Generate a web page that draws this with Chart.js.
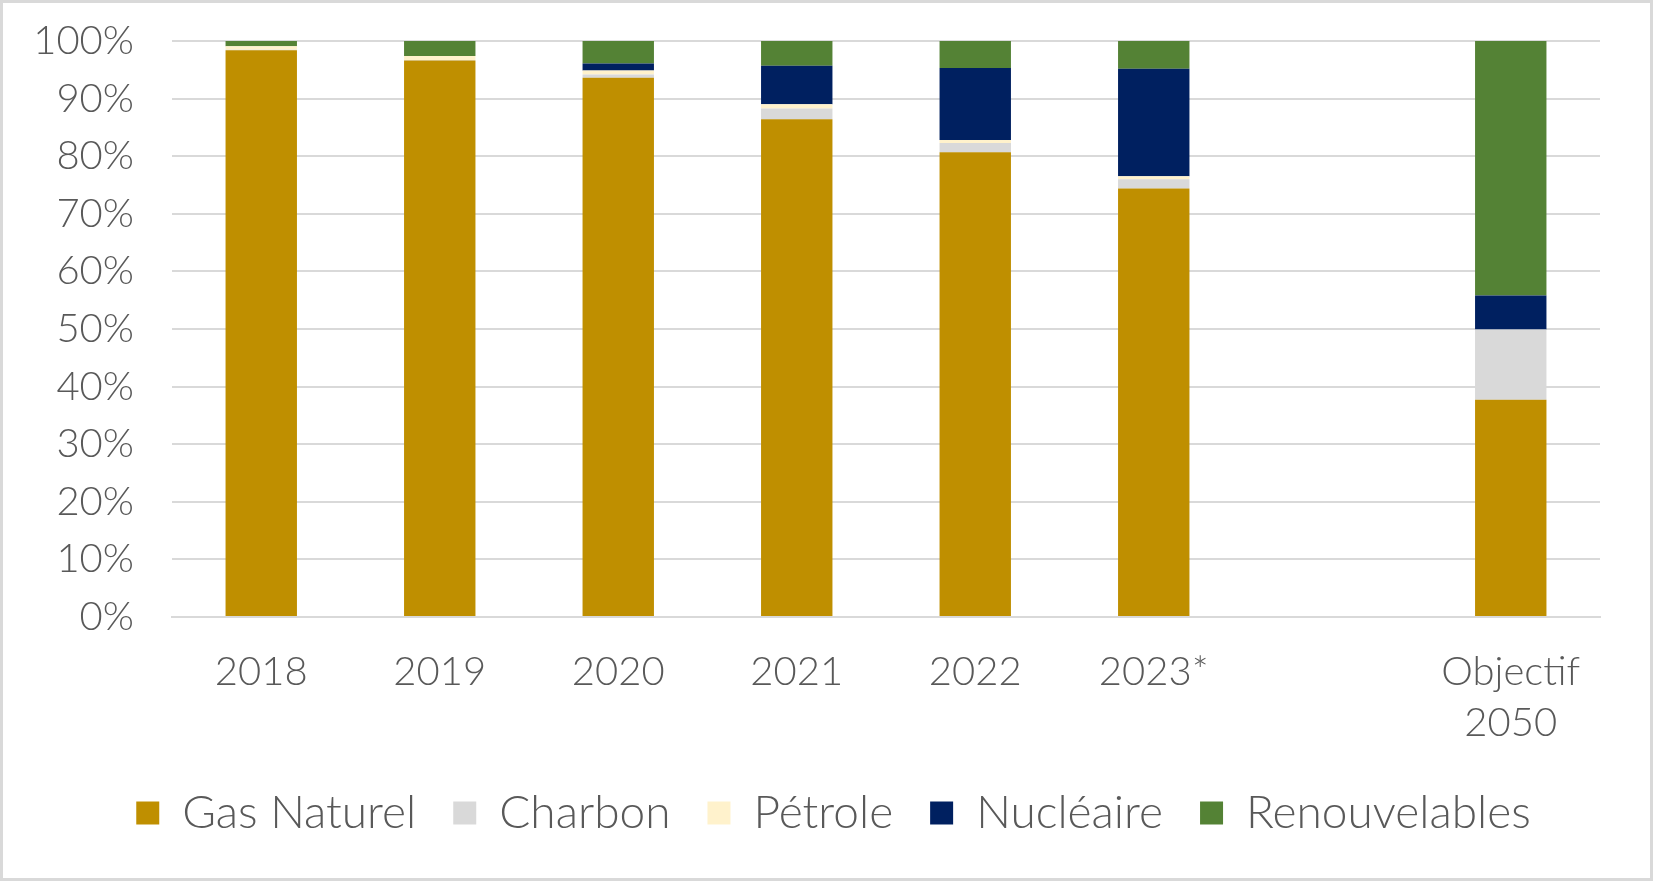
<!DOCTYPE html>
<html>
<head>
<meta charset="utf-8">
<script src="https://cdn.jsdelivr.net/npm/chart.js@4.4.0/dist/chart.umd.min.js"></script>
<style>
  html, body { margin: 0; padding: 0; background: #fff; }
  #wrap { width: 1653px; height: 881px; box-sizing: border-box; border: 3px solid #d9d9d9; }
</style>
</head>
<body>
<div id="wrap"><canvas id="mix"></canvas></div>
<script>
// categories (one blank slot before the 2050 target)
const categories = ['2018', '2019', '2020', '2021', '2022', '2023*', '', ['Objectif', '2050']];

// shares in %
const gasNaturel    = [98.4, 96.6, 93.6, 86.4, 80.7, 74.4, null, 37.7];
const charbon       = [0.1, 0.1, 0.6, 1.9, 1.6, 1.6, null, 12.2];
const petrole       = [0.6, 0.7, 0.7, 0.7, 0.5, 0.5, null, 0];
const nucleaire     = [0, 0, 1.2, 6.7, 12.5, 18.7, null, 5.9];
const renouvelables = [0.9, 2.6, 3.9, 4.3, 4.7, 4.8, null, 44.2];

const yTicks = [0, 10, 20, 30, 40, 50, 60, 70, 80, 90, 100];

const textColor = '#595959';
const tickFont = { family: 'Lato, "Open Sans", sans-serif', size: 40, weight: 300, lineHeight: 1.27 };
const legendFont = { family: 'Lato, "Open Sans", sans-serif', size: 46, weight: 300 };

function ds(label, data, color) {
    return {
        label: label,
        data: data,
        backgroundColor: color,
        borderWidth: 0,
        barPercentage: 0.4,
        categoryPercentage: 1.0
    };
}

// legend sits a bit right of centre in the original
const nudgeLegend = {
    id: 'nudgeLegend',
    afterUpdate(chart) {
        if (chart.legend) {
            chart.legend.left += 32;
            chart.legend.right += 32;
        }
    }
};

new Chart(document.getElementById('mix'), {
    type: 'bar',
    data: {
        labels: categories,
        datasets: [
            ds('Gas Naturel', gasNaturel, '#BF8F00'),
            ds('Charbon', charbon, '#D9D9D9'),
            ds('Pétrole', petrole, '#FFF2CC'),
            ds('Nucléaire', nucleaire, '#002060'),
            ds('Renouvelables', renouvelables, '#548235')
        ]
    },
    plugins: [nudgeLegend],
    options: {
        responsive: true,
        maintainAspectRatio: false,
        animation: false,
        layout: { padding: { left: 0, right: 50, top: 38, bottom: 32 } },
        plugins: {
            tooltip: { enabled: false },
            legend: {
                position: 'bottom',
                labels: {
                    color: textColor,
                    font: legendFont,
                    boxWidth: 23,
                    boxHeight: 23,
                    padding: 37
                }
            }
        },
        scales: {
            x: {
                stacked: true,
                grid: { display: false },
                border: { display: true, color: '#d9d9d9', width: 2 },
                ticks: { color: textColor, font: tickFont, padding: 22, maxRotation: 0, autoSkip: false },
                afterFit: s => { s.height = 136; s.paddingLeft = 0; s.paddingRight = 0; }
            },
            y: {
                stacked: true,
                min: 0,
                max: 100,
                afterBuildTicks: axis => { axis.ticks = yTicks.map(v => ({ value: v })); },
                grid: { color: '#d9d9d9', lineWidth: 2, drawTicks: false },
                border: { display: false },
                ticks: {
                    color: textColor,
                    font: tickFont,
                    padding: 38,
                    callback: v => v + '%'
                },
                afterFit: s => { s.width = 169; s.paddingTop = 0; }
            }
        }
    }
});
</script>
</body>
</html>
